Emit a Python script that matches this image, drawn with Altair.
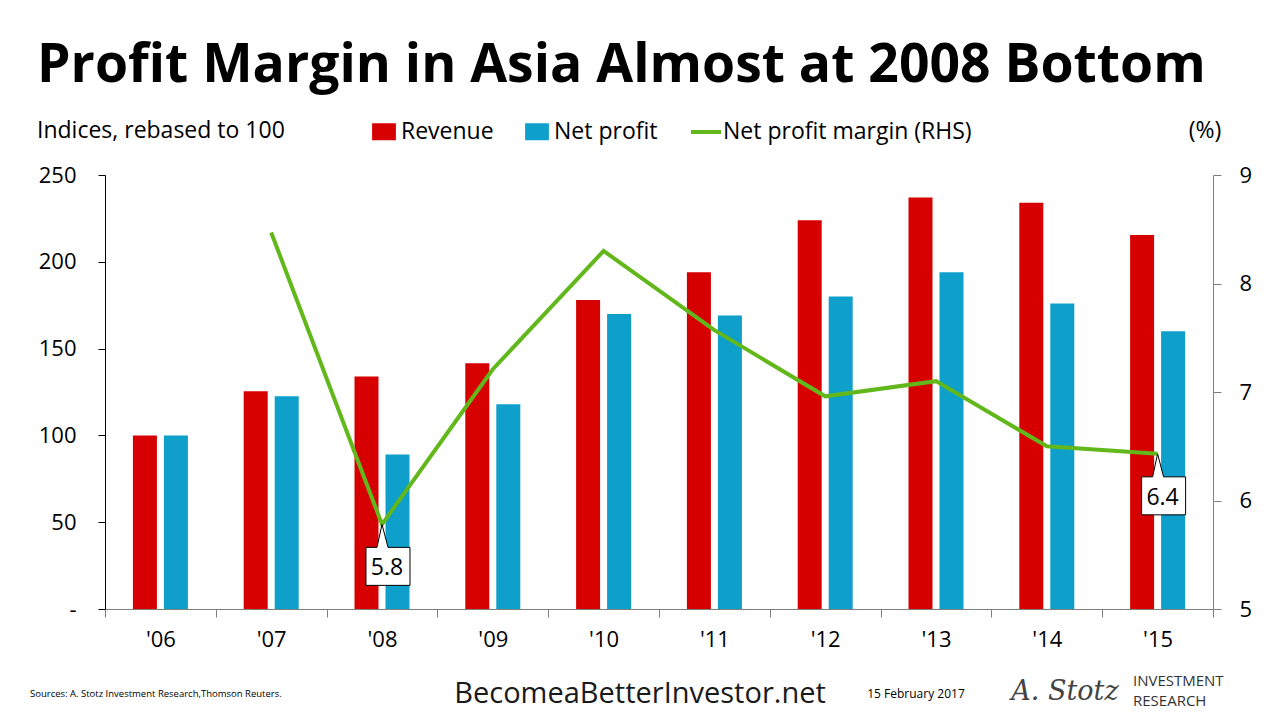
import altair as alt
import pandas as pd

years = ["'06", "'07", "'08", "'09", "'10", "'11", "'12", "'13", "'14", "'15"]
revenue = [100, 125.5, 134, 141.5, 178, 194, 224, 237, 234, 215.5]
net_profit = [100, 122.5, 89, 118, 170, 169, 180, 194, 176, 160]
margin_years = ["'07", "'08", "'09", "'10", "'11", "'12", "'13", "'14", "'15"]
margin = [8.47, 5.78, 7.21, 8.30, 7.57, 6.96, 7.10, 6.50, 6.43]
callout_years = ["'08", "'15"]
callout_values = [5.78, 6.43]
callout_labels = ["5.8", "6.4"]

RED = "#D60000"
BLUE = "#0EA0CB"
GREEN = "#62B71B"
FONT = "Open Sans"

bar_df = pd.DataFrame(
    [{"year": y, "series": "Revenue", "value": v} for y, v in zip(years, revenue)]
    + [{"year": y, "series": "Net profit", "value": v} for y, v in zip(years, net_profit)]
)
line_df = pd.DataFrame({"year": margin_years, "margin": margin,
                        "name": ["Net profit margin (RHS)"] * len(margin)})
call_df = pd.DataFrame({"year": callout_years, "margin": callout_values, "label": callout_labels})

x_enc = alt.X("year:N", sort=years, title=None,
              scale=alt.Scale(paddingInner=0, paddingOuter=0),
              axis=alt.Axis(labelAngle=0, labelFontSize=22, labelColor="black", labelFont=FONT,
                            labelPadding=12, tickBand="extent", tickSize=8, tickColor="#7f7f7f",
                            domainColor="#7f7f7f", grid=False))

bars = alt.Chart(bar_df).mark_bar().encode(
    x=x_enc,
    xOffset=alt.XOffset("series:N", sort=["Revenue", "Net profit"],
                        scale=alt.Scale(paddingInner=0.2258, paddingOuter=0.9)),
    y=alt.Y("value:Q", title=None,
            scale=alt.Scale(domain=[0, 250], nice=False, zero=True),
            axis=alt.Axis(orient="left", values=[0, 50, 100, 150, 200, 250], grid=False,
                          labelFontSize=22, labelColor="black", labelFont=FONT, labelPadding=22,
                          tickSize=7, tickColor="black", domainColor="black",
                          labelExpr="datum.value == 0 ? '-\u00a0\u00a0\u00a0' : datum.label")),
    color=alt.Color("series:N", sort=["Revenue", "Net profit"],
                    scale=alt.Scale(domain=["Revenue", "Net profit"], range=[RED, BLUE]),
                    legend=alt.Legend(title=None, orient="none", legendX=267.5, legendY=-55,
                                      direction="horizontal", padding=0,
                                      symbolType="M -1.4 -1 L 1.4 -1 L 1.4 1 L -1.4 1 Z",
                                      symbolSize=289, symbolStrokeWidth=0, labelOffset=5.5,
                                      columnPadding=30, labelFontSize=23, labelFont=FONT,
                                      labelColor="black", labelLimit=400)),
)

y_right = alt.Y("margin:Q", title=None, scale=alt.Scale(domain=[5, 9], nice=False, zero=False),
                axis=alt.Axis(orient="right", values=[5, 6, 7, 8, 9], grid=False,
                              labelFontSize=22, labelColor="black", labelFont=FONT,
                              labelPadding=18, tickSize=8, tickColor="#7f7f7f",
                              domainColor="#7f7f7f"))

line = alt.Chart(line_df).mark_line(strokeWidth=4, color=GREEN).encode(
    x=alt.X("year:N", sort=years),
    y=y_right,
    color=alt.Color("name:N", scale=alt.Scale(domain=["Net profit margin (RHS)"], range=[GREEN]),
                    legend=alt.Legend(title=None, orient="none", legendX=584, legendY=-60,
                                      padding=0, symbolType="stroke", symbolSize=900,
                                      symbolStrokeWidth=4, labelOffset=0, labelFontSize=23,
                                      labelFont=FONT, labelColor="black", labelLimit=400)),
)

callout_shape = ("M 0 0 L 0.0968 0.371 L 0.4516 0.371 L 0.4516 0.9839 "
                 "L -0.2581 0.9839 L -0.2581 0.371 L -0.0806 0.371 Z")
y_call = alt.Y("margin:Q", scale=alt.Scale(domain=[5, 9], nice=False, zero=False), axis=None)

callout = alt.Chart(call_df).mark_point(
    shape=callout_shape, size=15376, filled=True, fill="white", stroke="black",
    strokeWidth=1, opacity=1, fillOpacity=1, strokeOpacity=1
).encode(x=alt.X("year:N", sort=years), y=y_call)

callout_text = alt.Chart(call_df).mark_text(
    font=FONT, fontSize=23, color="black", dx=5, dy=44, baseline="middle", align="center"
).encode(x=alt.X("year:N", sort=years), y=y_call, text="label:N")


def label(txt, x, y, size, weight="normal", align="left", font=FONT, color="black",
          style="normal"):
    return alt.Chart(pd.DataFrame({"t": [txt]})).mark_text(
        font=font, fontSize=size, fontWeight=weight, align=align, baseline="middle",
        color=color, fontStyle=style
    ).encode(x=alt.value(x), y=alt.value(y), text="t:N")


title = alt.Chart(pd.DataFrame({"t": ["Profit Margin in Asia Almost at 2008 Bottom"]})).mark_text(
    font=FONT, fontSize=53.5, fontWeight="bold", align="left", baseline="alphabetic", color="black"
).encode(x=alt.value(-68), y=alt.value(-93), text="t:N")

texts = [
    title,
    label("Indices, rebased to 100", -68, -44, 23),
    label("(%)", 1100, -44, 23, align="center"),
    label("Sources: A. Stotz Investment Research,Thomson Reuters.", -75, 519, 9.5),
    label("BecomeaBetterInvestor.net", 535, 519, 29, align="center", color="#1a1a1a"),
    label("15 February 2017", 811, 519, 12, align="center"),
    label("A. Stotz", 960, 517, 27, align="center", font="DejaVu Serif", style="italic",
          color="#444444"),
    label("INVESTMENT", 1028, 506, 15, color="#333333"),
    label("RESEARCH", 1028, 526, 15, color="#333333"),
]

chart = alt.layer(bars, line, callout, callout_text, *texts).resolve_scale(
    y="independent", color="independent"
).properties(
    width=1108, height=434, autosize="none",
    padding={"left": 97, "top": 167, "right": 59, "bottom": 103},
).configure(font=FONT).configure_view(stroke=None)

chart.save("out.html", embed_options={"renderer": "svg", "actions": False})
